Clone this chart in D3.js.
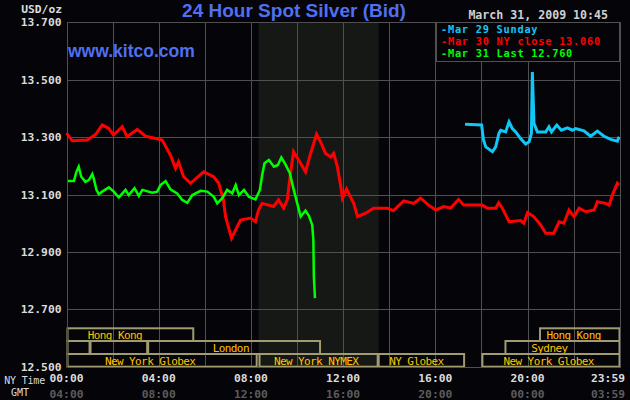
<!DOCTYPE html>
<html>
<head>
<meta charset="utf-8">
<script src="https://cdn.jsdelivr.net/npm/d3@7"></script>
<style>
  html, body { margin: 0; padding: 0; background: #050408; }
  svg { display: block; }
</style>
</head>
<body>
<div id="chart"></div>
<script>
const W = 630, H = 400;
const plot = { left: 66.5, right: 619.5, top: 22.3, bottom: 366.7 }; // frame

// price ticks (USD/oz)
const priceTicks = [13.7, 13.5, 13.3, 13.1, 12.9, 12.7, 12.5];
// time ticks: hour of NY day, NY label, GMT label
const timeTicks = [0, 4, 8, 12, 16, 20, 23.983];
const nyLabels = ['00:00', '04:00', '08:00', '12:00', '16:00', '20:00', '23:59'];
const gmtLabels = ['04:00', '08:00', '12:00', '16:00', '20:00', '00:00', '03:59'];

// [hour, price]
const mar29 = [[17.29,13.345],[18.01,13.342],[18.09,13.290],[18.19,13.266],[18.48,13.249],[18.62,13.266],
  [18.76,13.313],[18.84,13.324],[19.05,13.318],[19.20,13.353],[19.34,13.330],[19.49,13.318],[19.70,13.295],
  [19.92,13.276],[20.07,13.284],[20.17,13.313],[20.21,13.527],[20.24,13.452],[20.28,13.348],[20.43,13.318],
  [20.79,13.318],[20.93,13.336],[21.04,13.318],[21.27,13.342],[21.47,13.324],[21.73,13.332],[21.95,13.324],
  [22.09,13.330],[22.45,13.322],[22.74,13.303],[23.03,13.321],[23.32,13.303],[23.61,13.292],[23.90,13.286],
  [23.97,13.301]];

const mar30 = [[0,13.314],[0.25,13.287],[0.90,13.290],[1.26,13.309],[1.55,13.342],[1.82,13.331],[2.04,13.307],
  [2.42,13.336],[2.63,13.301],[3.07,13.327],[3.43,13.303],[3.78,13.297],[4.15,13.290],[4.51,13.237],
  [4.73,13.191],[4.86,13.214],[5.08,13.162],[5.38,13.139],[5.95,13.179],[6.38,13.162],[6.60,13.140],
  [6.81,13.081],[6.90,13.023],[7.16,12.948],[7.55,13.011],[7.99,13.018],[8.20,13.005],[8.33,13.046],
  [8.49,13.069],[8.98,13.058],[9.20,13.081],[9.42,13.053],[9.58,13.081],[9.68,13.150],[9.85,13.249],
  [10.07,13.220],[10.37,13.179],[10.59,13.243],[10.85,13.310],[11.02,13.284],[11.24,13.243],[11.46,13.231],
  [11.59,13.243],[11.75,13.197],[11.89,13.133],[11.97,13.087],[12.15,13.119],[12.46,13.069],[12.63,13.023],
  [12.98,13.035],[13.32,13.052],[13.92,13.052],[14.19,13.044],[14.63,13.078],[15.06,13.069],[15.36,13.087],
  [15.71,13.063],[16.02,13.046],[16.36,13.058],[16.67,13.053],[17.01,13.083],[17.23,13.063],[18.04,13.063],
  [18.26,13.052],[18.62,13.052],[18.75,13.071],[18.91,13.052],[19.20,13.005],[19.70,13.009],[19.84,13.000],
  [20.00,13.037],[20.27,13.023],[20.57,12.994],[20.79,12.965],[21.14,12.965],[21.37,13.005],[21.58,13.000],
  [21.80,13.046],[22.02,13.023],[22.24,13.052],[22.53,13.040],[22.89,13.046],[23.03,13.075],[23.39,13.069],
  [23.54,13.063],[23.68,13.098],[23.90,13.139],[23.97,13.133]];

const mar31 = [[0.03,13.147],[0.32,13.147],[0.43,13.179],[0.53,13.197],[0.64,13.162],[0.82,13.144],
  [0.97,13.150],[1.12,13.171],[1.18,13.156],[1.30,13.116],[1.40,13.101],[1.55,13.110],[1.84,13.125],
  [2.05,13.110],[2.27,13.090],[2.56,13.116],[2.70,13.098],[2.95,13.122],[3.14,13.095],[3.29,13.116],
  [3.72,13.106],[3.94,13.110],[4.08,13.133],[4.30,13.147],[4.51,13.118],[4.80,13.104],[5.02,13.081],
  [5.24,13.071],[5.46,13.098],[5.82,13.113],[6.11,13.110],[6.39,13.092],[6.54,13.069],[6.76,13.087],
  [6.97,13.116],[7.19,13.104],[7.34,13.133],[7.48,13.098],[7.70,13.116],[7.91,13.092],[8.20,13.083],
  [8.39,13.116],[8.49,13.168],[8.59,13.209],[8.78,13.220],[9.00,13.197],[9.17,13.203],[9.32,13.229],
  [9.51,13.203],[9.69,13.174],[9.84,13.122],[10.01,13.069],[10.16,13.023],[10.37,13.044],[10.52,13.025],
  [10.66,12.994],[10.71,12.942],[10.73,12.814],[10.78,12.739]];

const seriesNames = ['Mar 29 Sunday', 'Mar 30 NY close 13.060', 'Mar 31 Last 12.760'];
const seriesColors = ['#10c8f8', '#ff0000', '#00ff00'];

// market sessions: row, start hour, end hour, label, label hour
const sessRow = [0, 0, 1, 1, 1, 1, 2, 2, 2, 2];
const sessStart = [0, 20.5, 0, 1.0, 3.5, 19.0, 0, 8.33, 13.5, 18.0];
const sessEnd = [5.5, 24, 1.0, 3.5, 11.0, 24, 8.25, 13.5, 17.25, 24];
const sessLabel = ['Hong Kong', 'Hong Kong', '', '', 'London', 'Sydney', 'New York Globex', 'New York NYMEX', 'NY Globex', 'New York Globex'];
const sessLabelAt = [2.1, 22.0, 0, 0, 7.13, 20.95, 3.63, 10.83, 15.18, 20.92];

// NYMEX floor hours shading
const shadeHours = [8.33, 13.55];

const x = d3.scaleLinear().domain([0, 24]).range([plot.left, 619.7]);
const y = d3.scaleLinear().domain([12.5, 13.7]).range([plot.bottom, plot.top]);

const svg = d3.select('#chart').append('svg').attr('width', W).attr('height', H);
svg.append('rect').attr('width', W).attr('height', H).attr('fill', '#050408');

const mono = '"DejaVu Sans Mono", "Liberation Mono", monospace';

// shaded band
svg.append('rect')
  .attr('x', x(shadeHours[0])).attr('y', plot.top)
  .attr('width', x(shadeHours[1]) - x(shadeHours[0])).attr('height', plot.bottom - plot.top)
  .attr('fill', '#161816');

// grid
const grid = svg.append('g').attr('stroke', '#505050').attr('stroke-width', 1).attr('shape-rendering', 'crispEdges');
grid.selectAll('.h').data(priceTicks).enter().append('line')
  .attr('x1', plot.left).attr('x2', plot.right)
  .attr('y1', d => Math.round(y(d)) + 0.5).attr('y2', d => Math.round(y(d)) + 0.5);
grid.selectAll('.v').data(d3.range(0, 25, 2)).enter().append('line')
  .attr('x1', d => Math.round(Math.min(x(d), plot.right)) + 0.5)
  .attr('x2', d => Math.round(Math.min(x(d), plot.right)) + 0.5)
  .attr('y1', plot.top).attr('y2', plot.bottom);

// sessions
const rowTop = [328.3, 341, 354], rowH = [12.7, 13, 12.7];
const sess = svg.append('g');
sessStart.forEach((s, i) => {
  sess.append('rect')
    .attr('x', x(s) + 1).attr('y', rowTop[sessRow[i]])
    .attr('width', Math.min(x(sessEnd[i]), plot.right) - x(s) - 1)
    .attr('height', rowH[sessRow[i]])
    .attr('fill', 'none').attr('stroke', '#a09c70').attr('stroke-width', 2);
  if (sessLabel[i]) {
    sess.append('text')
      .attr('x', x(sessLabelAt[i])).attr('y', rowTop[sessRow[i]] + 10.5)
      .attr('text-anchor', 'middle')
      .attr('font-family', mono).attr('font-size', 11).attr('letter-spacing', -0.6)
      .attr('fill', '#ffc400')
      .text(sessLabel[i]);
  }
});

// price lines
const line = d3.line().x(d => x(d[0])).y(d => y(d[1])).curve(d3.curveLinear);
[mar29, mar30, mar31].forEach((data, i) => {
  svg.append('path').datum(data)
    .attr('d', line)
    .attr('fill', 'none')
    .attr('stroke', seriesColors[i])
    .attr('stroke-width', i === 2 ? 2.5 : 3)
    .attr('stroke-linejoin', 'miter');
});

// legend
const lg = svg.append('g');
lg.append('rect').attr('x', 436).attr('y', plot.top).attr('width', plot.right - 436).attr('height', 39)
  .attr('fill', '#050408').attr('stroke', '#505050').attr('stroke-width', 1).attr('shape-rendering', 'crispEdges');
seriesNames.forEach((n, i) => {
  lg.append('text')
    .attr('x', 441).attr('y', 33 + i * 12)
    .attr('font-family', mono).attr('font-size', 10.3).attr('font-weight', 'bold')
    .attr('letter-spacing', 0.75)
    .attr('fill', seriesColors[i])
    .text('-' + n);
});

// frame
svg.append('rect')
  .attr('x', plot.left + 0.5).attr('y', Math.round(plot.top) + 0.5)
  .attr('width', plot.right - plot.left).attr('height', Math.round(plot.bottom) - Math.round(plot.top))
  .attr('fill', 'none').attr('stroke', '#505050').attr('shape-rendering', 'crispEdges');

// y labels
svg.selectAll('.ylab').data(priceTicks).enter().append('text')
  .attr('x', 61.5).attr('y', d => y(d) + 4)
  .attr('text-anchor', 'end')
  .attr('font-family', mono).attr('font-size', 11.3).attr('font-weight', 'bold')
  .attr('fill', '#dcdcdc')
  .text(d => d3.format('.3f')(d));
svg.append('text').attr('x', 62).attr('y', 12.5).attr('text-anchor', 'end')
  .attr('font-family', mono).attr('font-size', 11.3).attr('font-weight', 'bold')
  .attr('fill', '#dcdcdc').text('USD/oz');

// x labels
svg.selectAll('.ny').data(timeTicks).enter().append('text')
  .attr('x', (d, i) => i === timeTicks.length - 1 ? 625 : x(d))
  .attr('y', 382)
  .attr('text-anchor', (d, i) => i === timeTicks.length - 1 ? 'end' : 'middle')
  .attr('font-family', mono).attr('font-size', 11.3).attr('font-weight', 'bold')
  .attr('fill', '#dcdcdc')
  .text((d, i) => nyLabels[i]);
svg.selectAll('.gmt').data(timeTicks).enter().append('text')
  .attr('x', (d, i) => i === timeTicks.length - 1 ? 625 : x(d))
  .attr('y', 398)
  .attr('text-anchor', (d, i) => i === timeTicks.length - 1 ? 'end' : 'middle')
  .attr('font-family', mono).attr('font-size', 11.3).attr('font-weight', 'bold')
  .attr('fill', '#5c5c5c')
  .text((d, i) => gmtLabels[i]);
svg.append('text').attr('x', 45).attr('y', 384).attr('text-anchor', 'end')
  .attr('font-family', mono).attr('font-size', 10).attr('letter-spacing', -0.2).attr('fill', '#dcdcdc').text('NY Time');
svg.append('text').attr('x', 29).attr('y', 396).attr('text-anchor', 'end')
  .attr('font-family', mono).attr('font-size', 10).attr('fill', '#dcdcdc').text('GMT');

// titles
svg.append('text').attr('x', 294).attr('y', 17.3).attr('text-anchor', 'middle')
  .attr('font-family', '"Liberation Sans", Arial, sans-serif').attr('font-size', 19).attr('font-weight', 'bold')
  .attr('fill', '#5070f0').text('24 Hour Spot Silver (Bid)');
svg.append('text').attr('x', 68).attr('y', 56.5)
  .attr('font-family', '"Liberation Sans", Arial, sans-serif').attr('font-size', 17.5).attr('font-weight', 'bold')
  .attr('fill', '#5070f0').text('www.kitco.com');
svg.append('text').attr('x', 608).attr('y', 18.5).attr('text-anchor', 'end')
  .attr('font-family', mono).attr('font-size', 11.6).attr('font-weight', 'bold')
  .attr('fill', '#d0d0d0').text('March 31, 2009 10:45');
</script>
</body>
</html>
